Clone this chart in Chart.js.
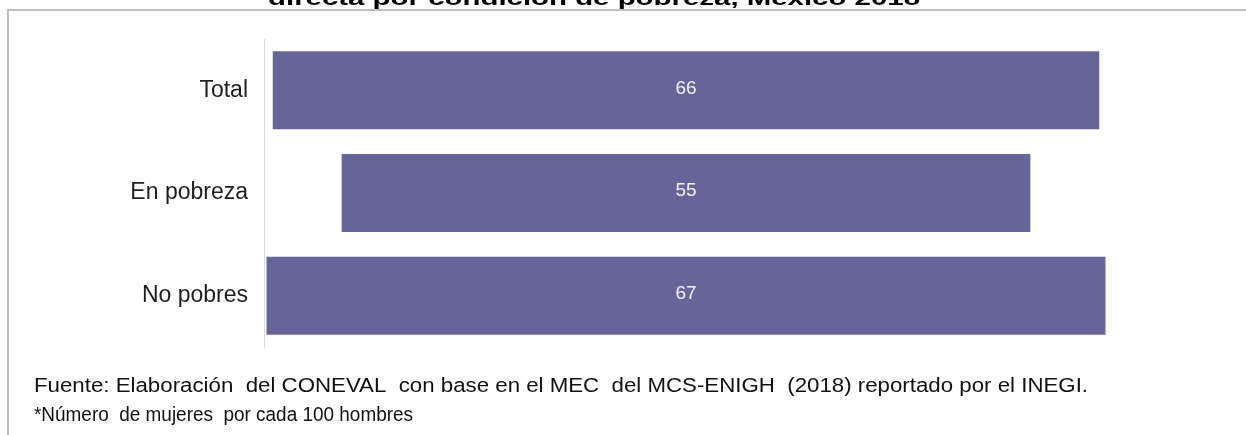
<!DOCTYPE html>
<html>
<head>
<meta charset="utf-8">
<script src="https://cdn.jsdelivr.net/npm/chart.js@4.4.1/dist/chart.umd.min.js"></script>
<style>
  html, body { margin: 0; padding: 0; background: #ffffff; }
  #wrap { width: 1246px; height: 435px; position: relative; }
</style>
</head>
<body>
<div id="wrap"><canvas id="c" width="1246" height="435"></canvas></div>
<script>
const categories = ["Total", "En pobreza", "No pobres"];
const values = [66, 55, 67];
const titleText = "directa por condición de pobreza, México 2018";
const noteLines = [
  "Fuente: Elaboración  del CONEVAL  con base en el MEC  del MCS-ENIGH  (2018) reportado por el INEGI.",
  "*Número  de mujeres  por cada 100 hombres"
];

const BAR_COLOR = "#67649a";

function fitText(ctx, text, x, y, targetW, font) {
  ctx.save();
  ctx.font = font;
  const w = ctx.measureText(text).width;
  const sx = targetW / w;
  ctx.translate(x, y);
  ctx.scale(sx, 1);
  ctx.fillText(text, 0, 0);
  ctx.restore();
}

const decor = {
  id: 'decor',
  beforeDraw(chart) {
    const ctx = chart.ctx;
    ctx.save();
    ctx.fillStyle = '#ffffff';
    ctx.fillRect(0, 0, chart.width, chart.height);
    ctx.strokeStyle = '#c0c0c0';
    ctx.lineWidth = 2;
    ctx.beginPath();
    ctx.moveTo(1300, 10);
    ctx.lineTo(8, 10);
    ctx.lineTo(8, 500);
    ctx.stroke();
    ctx.restore();
  },
  afterDraw(chart) {
    const ctx = chart.ctx;
    ctx.save();
    ctx.fillStyle = '#000000';
    ctx.textBaseline = 'alphabetic';
    ctx.textAlign = 'left';
    fitText(ctx, titleText, 268, 5, 652, 'bold 21px "Liberation Sans", Arial, sans-serif');
    ctx.fillStyle = '#111111';
    fitText(ctx, noteLines[0], 34, 392, 1054, '20px "Liberation Sans", Arial, sans-serif');
    fitText(ctx, noteLines[1], 34, 421, 379, '20px "Liberation Sans", Arial, sans-serif');
    const meta = chart.getDatasetMeta(0);
    ctx.fillStyle = '#f2f2f2';
    ctx.font = '19px "Liberation Sans", Arial, sans-serif';
    ctx.textAlign = 'center';
    ctx.textBaseline = 'middle';
    meta.data.forEach((bar, i) => {
      const cx = (bar.x + bar.base) / 2;
      ctx.fillText(String(values[i]), cx, bar.y - 2);
    });
    ctx.restore();
  }
};

new Chart(document.getElementById('c'), {
  type: 'bar',
  data: {
    labels: categories,
    datasets: [{
      data: values.map(v => [-v / 2, v / 2]),
      backgroundColor: BAR_COLOR,
      borderWidth: 0,
      barPercentage: 0.76,
      categoryPercentage: 1.0
    }]
  },
  options: {
    indexAxis: 'y',
    responsive: false,
    animation: false,
    devicePixelRatio: 1,
    layout: { padding: { top: 39, bottom: 88, left: 0, right: 138 } },
    plugins: { legend: { display: false }, tooltip: { enabled: false }, title: { display: false } },
    scales: {
      x: {
        display: false,
        min: -33.7,
        max: 33.7
      },
      y: {
        afterFit(scale) { scale.width = 264; },
        grid: { display: false, drawTicks: false },
        border: { display: true, color: '#d9d9d9', width: 1 },
        ticks: {
          color: '#1e1e1e',
          padding: 16,
          font: { family: '"Liberation Sans", Arial, sans-serif', size: 23 }
        }
      }
    }
  },
  plugins: [decor]
});
</script>
</body>
</html>
